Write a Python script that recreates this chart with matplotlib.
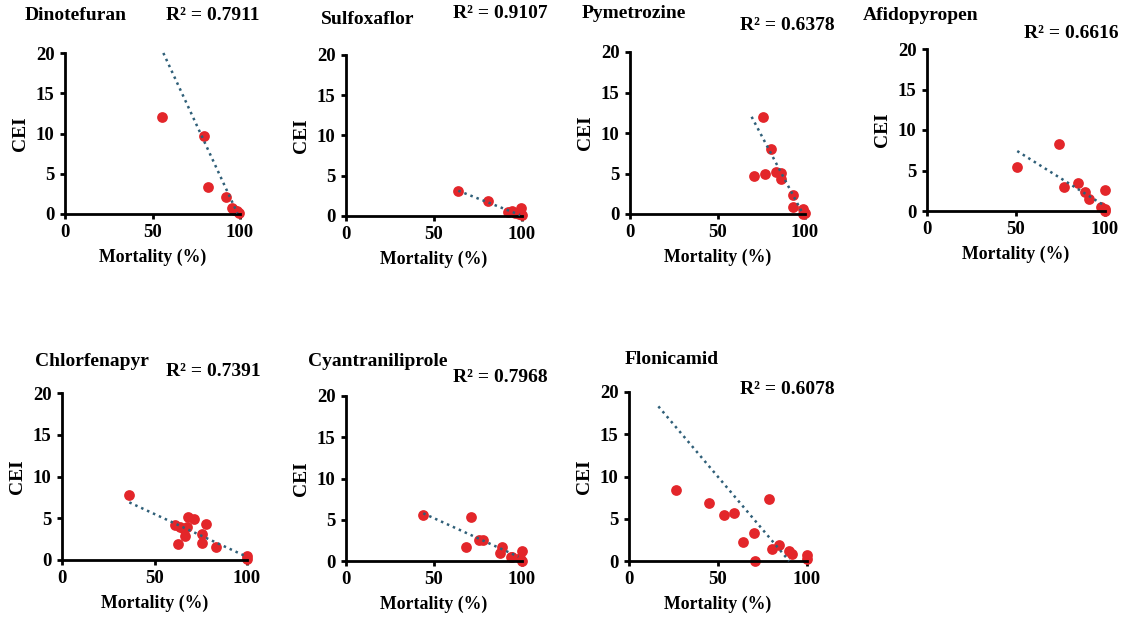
import matplotlib
matplotlib.use("Agg")
import matplotlib.pyplot as plt
import numpy as np

plt.rcParams['font.family'] = ['Liberation Serif', 'DejaVu Serif']
plt.rcParams['font.weight'] = 'bold'

# ---------------- data ----------------
names = ["Dinotefuran", "Sulfoxaflor", "Pymetrozine", "Afidopyropen",
         "Chlorfenapyr", "Cyantraniliprole", "Flonicamid"]
r2_labels = ["R² = 0.7911", "R² = 0.9107", "R² = 0.6378", "R² = 0.6616",
             "R² = 0.7391", "R² = 0.7968", "R² = 0.6078"]

dino_x = [55.6, 79.2, 81.5, 92.2, 95.3, 96.5, 98.5, 99.5]
dino_y = [12.1, 9.7, 3.35, 2.1, 0.7, 0.5, 0.35, 0.1]

sulf_x = [63.8, 80.9, 92.2, 94.5, 96.0, 98.5, 99.5, 99.8]
sulf_y = [3.15, 1.9, 0.53, 0.65, 0.4, 0.3, 1.0, 0.1]

pyme_x = [75.8, 80.4, 70.7, 77.0, 83.4, 86.1, 86.1, 93.3, 93.3, 98.7, 100.0, 99.0]
pyme_y = [11.98, 7.98, 4.65, 4.98, 5.2, 5.1, 4.36, 2.3, 0.9, 0.62, 0.1, 0.0]

afid_x = [50.7, 74.2, 77.0, 85.0, 88.6, 90.8, 100.0, 97.6, 100.0, 100.0]
afid_y = [5.4, 8.27, 3.0, 3.5, 2.38, 1.44, 2.6, 0.45, 0.2, 0.0]

chlo_x = [36.4, 61.0, 64.0, 62.5, 66.0, 66.7, 67.9, 71.5, 67.4, 77.7, 75.9, 75.9, 83.2, 100.0, 100.0]
chlo_y = [7.75, 4.15, 4.0, 1.9, 3.7, 2.9, 5.1, 4.95, 4.0, 4.3, 3.1, 2.04, 1.6, 0.48, 0.1]

cyan_x = [43.9, 70.8, 68.0, 75.6, 78.0, 88.8, 87.5, 93.6, 94.5, 99.8, 99.0, 100.0]
cyan_y = [5.6, 5.3, 1.73, 2.55, 2.55, 1.73, 0.93, 0.52, 0.45, 1.25, 0.35, 0.05]

flon_x = [26.2, 44.9, 53.6, 58.8, 63.9, 70.4, 71.0, 78.5, 80.1, 84.4, 90.0, 91.4, 100.0, 100.0]
flon_y = [8.36, 6.82, 5.44, 5.68, 2.25, 3.27, 0.0, 7.3, 1.38, 1.86, 1.18, 0.79, 0.75, 0.2]

# trend line end points (x_start, x_end) and (y_start, y_end)
trend_x = [[56.2, 98.5], [63.8, 98.9], [69.5, 98.1], [50.7, 99.1],
           [36.4, 99.0], [43.9, 98.0], [16.5, 90.0]]
trend_y = [[20.0, 0.1], [3.14, 0.12], [12.0, 0.3], [7.4, 0.74],
           [6.9, 0.48], [5.78, 0.52], [18.3, 0.0]]

series_x = [dino_x, sulf_x, pyme_x, afid_x, chlo_x, cyan_x, flon_x]
series_y = [dino_y, sulf_y, pyme_y, afid_y, chlo_y, cyan_y, flon_y]

x_ticks = [0, 50, 100]
y_ticks = [0, 5, 10, 15, 20]

# ---------------- layout (pixels) ----------------
W, H = 1126, 623
# left, top, right, bottom of the plotting area
boxes = [(65, 53, 240, 214), (346, 55, 522, 216), (630, 52, 805, 214), (927, 49, 1105, 211),
         (62, 393, 247, 560), (346, 396, 522, 561), (629, 392, 807, 561)]
title_pos = [(25, 15), (321, 19), (582, 14), (863, 16), (35, 362), (308, 361), (625, 359)]
r2_pos = [(166, 15), (453, 13), (740, 26), (1024, 33), (166, 372), (453, 377), (740, 390)]

point_color = '#E3262A'
line_color = '#2F5F78'

fig = plt.figure(figsize=(W / 100, H / 100), dpi=100)

for i in range(7):
    l, t, r, b = boxes[i]
    ax = fig.add_axes([l / W, (H - b) / H, (r - l) / W, (b - t) / H])
    ax.plot(trend_x[i], trend_y[i], linestyle=(0, (1, 1.6)), color=line_color,
            linewidth=1.8, zorder=3, clip_on=False)
    ax.scatter(series_x[i], series_y[i], s=60, color=point_color, zorder=2,
               clip_on=False, linewidths=0)
    ax.set_xlim(0, 100)
    ax.set_ylim(0, 20)
    ax.set_xticks(x_ticks)
    ax.set_yticks(y_ticks)
    for side in ['top', 'right']:
        ax.spines[side].set_visible(False)
    for side in ['left', 'bottom']:
        ax.spines[side].set_linewidth(2.0)
        ax.spines[side].set_color('black')
    ax.tick_params(axis='both', direction='out', length=3.5, width=2.0,
                   labelsize=13.5, pad=4)
    for lab in ax.get_xticklabels() + ax.get_yticklabels():
        lab.set_fontweight('bold')
    ax.set_xlabel('Mortality (%)', fontsize=12.8, fontweight='bold', labelpad=5)
    ax.set_ylabel('CEI', fontsize=14, fontweight='bold', labelpad=5)
    tx, ty = title_pos[i]
    fig.text(tx / W, 1 - ty / H, names[i], ha='left', va='center',
             fontsize=14, fontweight='bold')
    rx, ry = r2_pos[i]
    fig.text(rx / W, 1 - ry / H, r2_labels[i], ha='left', va='center',
             fontsize=14, fontweight='bold')

fig.savefig('out.png', dpi=100)
